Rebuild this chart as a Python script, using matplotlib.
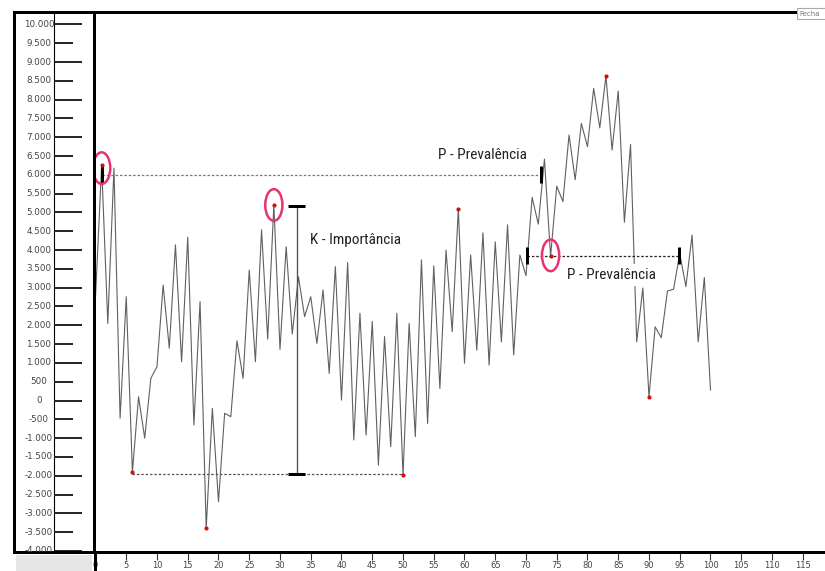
import matplotlib
matplotlib.use("Agg")
import matplotlib.pyplot as plt
import matplotlib.font_manager as fm
from matplotlib.patches import Ellipse, Rectangle
from matplotlib.lines import Line2D

# ---------------- data ----------------
x_vals = list(range(0, 101))
y_vals = [2750, 6250, 2050, 6180, -470, 2760, -1900, 100, -1000, 590,
          900, 3070, 1390, 4140, 1030, 4340, -650, 2630, -3400, -210,
          -2690, -340, -430, 1590, 590, 3470, 1030, 4540, 1630, 5200,
          1360, 4090, 1770, 3290, 2230, 2760, 1520, 2940, 720, 3560,
          10, 3670, -1050, 2320, -920, 2100, -1720, 1700, -1230, 2320,
          -1980, 2050, -960, 3740, -610, 3580, 320, 4000, 1830, 5100,
          990, 3870, 1340, 4460, 940, 4220, 1560, 4670, 1210, 3870,
          3320, 5400, 4690, 6420, 3840, 5700, 5290, 7060, 5870, 7370,
          6750, 8300, 7250, 8630, 6660, 8230, 4740, 6810, 1560, 2990,
          100, 1960, 1670, 2910, 2960, 3910, 3030, 4400, 1560, 3270,
          280]
extreme_x = [1, 6, 18, 29, 50, 59, 74, 83, 90]
circled_x = [1, 29, 74]
circled_y = [6180, 5200, 3860]

y_ticks = [10000, 9500, 9000, 8500, 8000, 7500, 7000, 6500, 6000, 5500,
           5000, 4500, 4000, 3500, 3000, 2500, 2000, 1500, 1000, 500,
           0, -500, -1000, -1500, -2000, -2500, -3000, -3500, -4000]
y_tick_labels = ["10.000", "9.500", "9.000", "8.500", "8.000", "7.500",
                 "7.000", "6.500", "6.000", "5.500", "5.000", "4.500",
                 "4.000", "3.500", "3.000", "2.500", "2.000", "1.500",
                 "1.000", "500", "0", "-500", "-1.000", "-1.500",
                 "-2.000", "-2.500", "-3.000", "-3.500", "-4.000"]
x_ticks = list(range(0, 120, 5))
x_tick_labels = [str(v) for v in x_ticks]

# annotation levels (data units)
upper_level, upper_start, upper_end = 6000, 1, 72.4
upper_bar = (5790, 6240)
lower_level, lower_start, lower_end = 3840, 70.2, 94.8
lower_bar = (3620, 4090)
support_level, support_start, support_end = -1950, 6, 50
k_x, k_low, k_high = 32.7, -1950, 5180
k_cap = (31.25, 34.1)

label_k = "K - Importância"
label_p = "P - Prevalência"
label_k_pos = (34.9, 4263)
label_p1_pos = (55.7, 6529)
label_p2_pos = (76.7, 3338)
corner_label = "Fecha"

# ---------------- fonts ----------------
names = {f.name for f in fm.fontManager.ttflist}
ann_family = None
for cand in ["Liberation Sans Narrow", "Arial Narrow", "DejaVu Sans Condensed",
             "Roboto Condensed", "Open Sans Condensed"]:
    if cand in names:
        ann_family = cand
        break
if ann_family is None:
    ann_family = "Liberation Sans"
    ann_size = 10
else:
    ann_size = 11

# ---------------- layout ----------------
W, H = 825, 571
PX = 72 / 100.0


def rect(l, t, r, b):
    return [l / W, 1 - b / H, (r - l) / W, (b - t) / H]


fig = plt.figure(figsize=(W / 100, H / 100), dpi=100)
fig.patch.set_facecolor("white")

XLIM = (-0.244, 118.62)
YLIM = (-4029, 10332)

ax = fig.add_axes(rect(94, 12, 825, 552))
ax.set_xlim(*XLIM)
ax.set_ylim(*YLIM)
for s in ["top", "left", "bottom"]:
    ax.spines[s].set_linewidth(3 * PX)
    ax.spines[s].set_color("black")
ax.spines["right"].set_visible(False)
ax.set_yticks([])
ax.set_xticks(x_ticks, x_tick_labels)
ax.tick_params(axis="x", direction="out", length=6, width=0.8, pad=0.5,
               labelsize=6, labelcolor="#444444", color="#333333")

# price line
ax.plot(x_vals, y_vals, color="#606060", lw=0.8, zorder=2)
ax.plot(extreme_x, [y_vals[i] for i in extreme_x], "o", color="#cc1111",
        ms=3, mec="none", zorder=5)

# dashed reference lines
ax.hlines(upper_level, upper_start, upper_end, colors="#777777", lw=0.9,
          linestyles=(0, (2, 1.5)), zorder=3)
ax.hlines(lower_level, lower_start, lower_end, colors="#222222", lw=0.9,
          linestyles=(0, (2, 1.5)), zorder=3)
ax.hlines(support_level, support_start, support_end, colors="#555555", lw=0.9,
          linestyles=(0, (2, 1.5)), zorder=3)

# black bars at ends of prevalence lines
ax.vlines([upper_start, upper_end], *upper_bar, colors="black", lw=3 * PX, zorder=4)
ax.vlines([lower_start, lower_end], *lower_bar, colors="black", lw=3 * PX, zorder=4)

# K measurement
ax.vlines(k_x, k_low, k_high, colors="#555555", lw=1.0, zorder=3)
ax.hlines([k_low, k_high], *k_cap, colors="black", lw=3 * PX, zorder=4)

# circles
for cx, cy in zip(circled_x, circled_y):
    ax.add_patch(Ellipse((cx, cy), 2.8, 840, fill=False, ec="#e8336d",
                         lw=1.8, zorder=6, clip_on=False))

bbox = dict(facecolor="white", edgecolor="none", pad=3)
ax.text(*label_k_pos, label_k, ha="left", va="center", fontsize=ann_size,
        family=[ann_family, "DejaVu Sans"], color="#222222", bbox=bbox, zorder=7)
ax.text(*label_p1_pos, label_p, ha="left", va="center", fontsize=ann_size,
        family=[ann_family, "DejaVu Sans"], color="#222222", bbox=bbox, zorder=7)
ax.text(*label_p2_pos, label_p, ha="left", va="center", fontsize=ann_size,
        family=[ann_family, "DejaVu Sans"], color="#222222", bbox=bbox, zorder=7)

# ---------------- left value panel ----------------
pax = fig.add_axes(rect(14, 12, 94, 552))
pax.set_xlim(0, 80)
pax.set_ylim(*YLIM)
pax.set_xticks([])
pax.set_yticks([])
for s in ["top", "left", "bottom", "right"]:
    pax.spines[s].set_linewidth(3 * PX)
    pax.spines[s].set_color("black")
pax.axvline(40, color="black", lw=0.8)
for v, lab in zip(y_ticks, y_tick_labels):
    length = 28 if v % 1000 == 0 else 19
    pax.hlines(v, 40, 40 + length, colors="#222222", lw=1.4)
    pax.text(25, v, lab, ha="center", va="center", fontsize=6.3,
             color="#444444", family="DejaVu Sans", clip_on=True)

# ---------------- frame decorations ----------------
fig.patches.append(Rectangle((16 / W, 0), (92 - 16) / W, (571 - 555) / H,
                             transform=fig.transFigure, facecolor="#e6e6e6",
                             edgecolor="none", zorder=1))
fig.lines.append(Line2D([95 / W, 95 / W], [0, 1 - 552 / H],
                        transform=fig.transFigure, color="black",
                        lw=3 * PX, zorder=3))
fig.patches.append(Rectangle((797 / W, 1 - 19 / H), 30 / W, 11 / H,
                             transform=fig.transFigure, facecolor="white",
                             edgecolor="#aaaaaa", lw=0.8, zorder=10))
fig.text(799 / W, 1 - 14 / H, corner_label, fontsize=5, color="#777777",
         va="center", ha="left", zorder=11)

fig.savefig("out.png", dpi=100)
